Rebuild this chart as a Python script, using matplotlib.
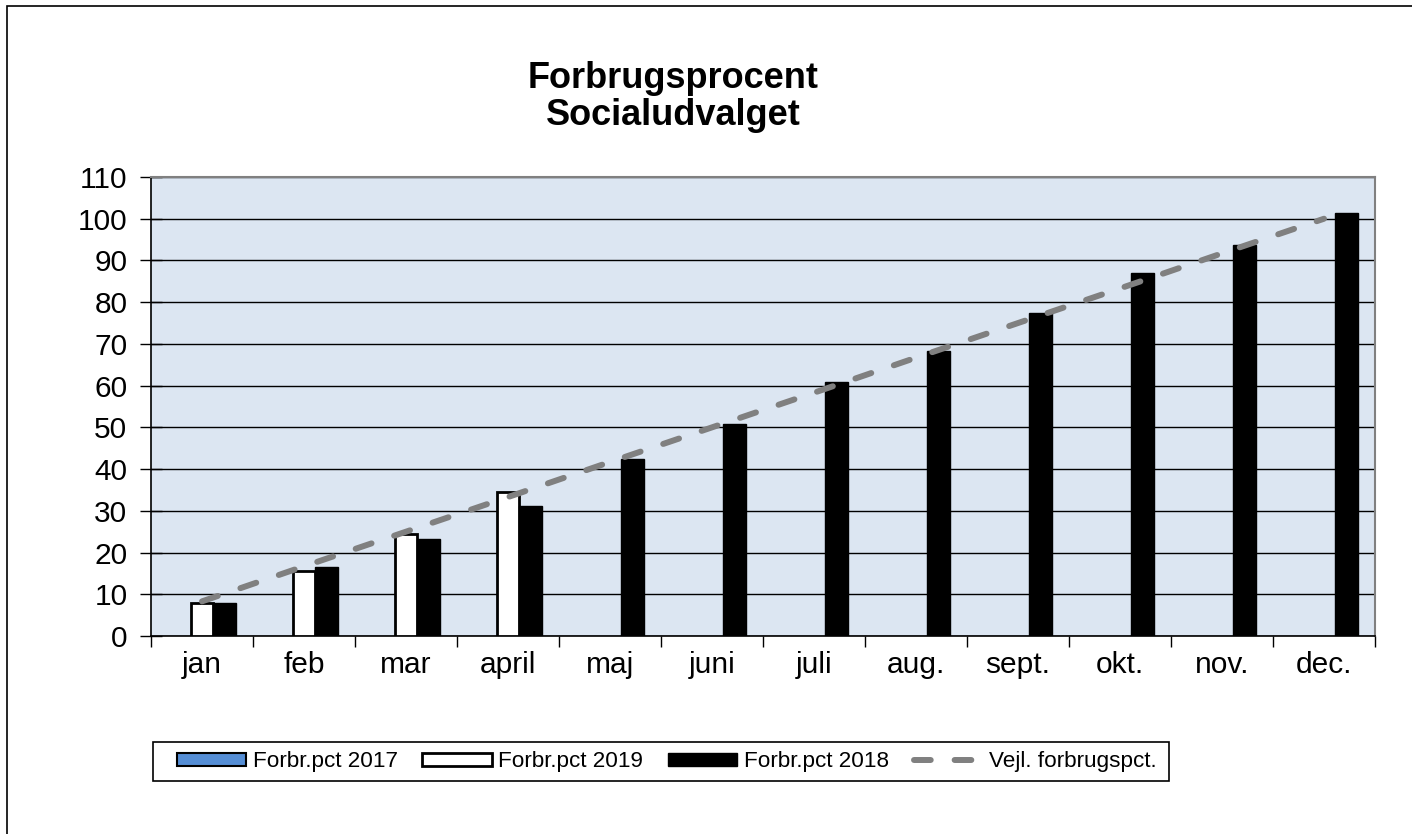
import matplotlib
matplotlib.use("Agg")
import matplotlib.pyplot as plt
import numpy as np
from matplotlib.patches import Rectangle

plt.rcParams['font.family'] = ['Liberation Sans', 'DejaVu Sans']

months = ["jan", "feb", "mar", "april", "maj", "juni", "juli", "aug.", "sept.", "okt.", "nov.", "dec."]
pct_2017 = [np.nan] * 12
pct_2019 = [7.9, 15.6, 24.4, 34.4, np.nan, np.nan, np.nan, np.nan, np.nan, np.nan, np.nan, np.nan]
pct_2018 = [7.8, 16.6, 23.2, 31.2, 42.3, 50.8, 60.9, 68.3, 77.5, 86.9, 93.8, 101.4]
vejl = [8.3, 16.7, 25.0, 33.3, 41.7, 50.0, 58.3, 66.7, 75.0, 83.3, 91.7, 100.0]
yticks = list(range(0, 111, 10))

W, H = 1412, 834
fig = plt.figure(figsize=(W / 100, H / 100), dpi=100)
fig.patch.set_facecolor("white")
fig.add_artist(Rectangle((7 / W, -0.05), 2, 1 - 6 / H + 0.05, transform=fig.transFigure,
                         fill=False, edgecolor="black", linewidth=1.2))

ax = fig.add_axes([151 / W, 1 - 636 / H, (1375 - 151) / W, (636 - 177) / H])
ax.set_facecolor("#DCE6F2")

x = np.arange(len(months))
bw = 0.225
ax.bar(x - bw, pct_2017, bw, color="#558ED5", edgecolor="black", linewidth=1.5, label="Forbr.pct 2017", zorder=3)
ax.bar(x, pct_2019, bw, color="white", edgecolor="black", linewidth=2, label="Forbr.pct 2019", zorder=3)
ax.bar(x + bw, pct_2018, bw, color="black", edgecolor="black", linewidth=1, label="Forbr.pct 2018", zorder=3)
ax.plot(x, vejl, color="#808080", linewidth=4.3, dashes=(2.8, 4.0),
        dash_capstyle="round", label="Vejl. forbrugspct.", zorder=4)

ax.set_xlim(-0.5, len(months) - 0.5)
ax.set_ylim(0, 110)
ax.set_yticks(yticks)
ax.set_yticklabels([str(v) for v in yticks], fontsize=21.5)
ax.yaxis.grid(True, color="black", linewidth=1.0, zorder=0)
ax.set_axisbelow(True)
ax.tick_params(axis="y", direction="inout", length=16, width=1, color="black", pad=9)

ax.set_xticks(np.arange(-0.5, len(months), 1.0))
ax.set_xticklabels([])
ax.set_xticks(x, minor=True)
ax.set_xticklabels(months, minor=True, fontsize=21.5)
ax.tick_params(axis="x", which="major", direction="out", length=8, width=1, color="black")
ax.tick_params(axis="x", which="minor", length=0, pad=11)

for s in ["top", "right"]:
    ax.spines[s].set_color("#808080")
    ax.spines[s].set_linewidth(1.5)
for s in ["left", "bottom"]:
    ax.spines[s].set_color("black")
    ax.spines[s].set_linewidth(1.2)

fig.text(673 / W, 1 - 97 / H, "Forbrugsprocent\nSocialudvalget", ha="center", va="center",
         fontsize=26, fontweight="bold", linespacing=1.05)

# legend frame
fig.add_artist(Rectangle((153 / W, 1 - 781 / H), (1169 - 153) / W, (781 - 742) / H,
                         transform=fig.transFigure, fill=True, facecolor="white",
                         edgecolor="black", linewidth=1.2, zorder=1))

handles, labels = ax.get_legend_handles_labels()
order = [1, 2, 3, 0]
leg = fig.legend([handles[i] for i in order], [labels[i] for i in order], loc="center",
                 bbox_to_anchor=(667 / W, 1 - 762 / H), ncol=4,
                 fontsize=16.2, frameon=False,
                 handlelength=3.07, handleheight=0.53, handletextpad=0.3, columnspacing=1.1,
                 borderpad=0.0, borderaxespad=0)
leg.set_zorder(2)

fig.savefig("out.png", dpi=100, facecolor="white")
